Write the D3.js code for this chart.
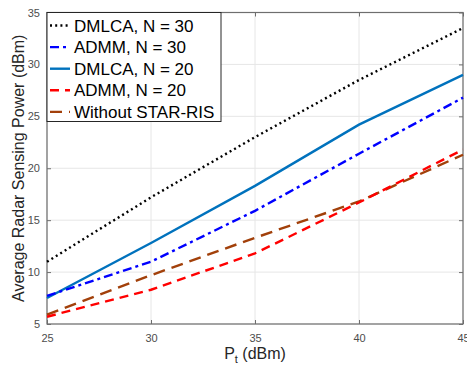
<!DOCTYPE html>
<html>
<head>
<meta charset="utf-8">
<script src="https://cdn.jsdelivr.net/npm/d3@7"></script>
<style>
  body { margin: 0; background: #fff; }
  text { font-family: "Liberation Sans", Arial, sans-serif; }
</style>
</head>
<body>
<svg width="467" height="368"></svg>
<script>
// values
const power = [25, 30, 35, 40, 45];
const dmlca30 = [11.0, 17.2, 23.0, 28.5, 33.5];
const admm30 = [7.7, 11.0, 15.9, 21.4, 26.8];
const dmlca20 = [7.5, 12.8, 18.3, 24.2, 29.0];
const admm20 = [5.7, 8.3, 11.8, 16.7, 21.8];
const noRis = [5.9, 9.7, 13.3, 16.8, 21.3];
const xTicks = [25, 30, 35, 40, 45];
const yTicks = [5, 10, 15, 20, 25, 30, 35];

const series = [
  {name: "DMLCA, N = 30", values: dmlca30, color: "#000000", dash: "2,3.2"},
  {name: "ADMM, N = 30", values: admm30, color: "#0000ff", dash: "9,4,3,4"},
  {name: "DMLCA, N = 20", values: dmlca20, color: "#0072bd", dash: null},
  {name: "ADMM, N = 20", values: admm20, color: "#ff0000", dash: "9,6"},
  {name: "Without STAR-RIS", values: noRis, color: "#a2400a", dash: "12,7"}
];

const svg = d3.select("svg");
const pLeft = 47, pRight = 463, pTop = 12.5, pBottom = 324;

const x = d3.scaleLinear().domain([25, 45]).range([pLeft, pRight]);
const y = d3.scaleLinear().domain([5, 35]).range([pBottom, pTop]);

// grid
const g = svg.append("g");
g.selectAll(".gx").data(xTicks).join("line")
  .attr("x1", d => x(d)).attr("x2", d => x(d))
  .attr("y1", pTop).attr("y2", pBottom)
  .attr("stroke", "#e6e6e6").attr("stroke-width", 1);
g.selectAll(".gy").data(yTicks).join("line")
  .attr("x1", pLeft).attr("x2", pRight)
  .attr("y1", d => y(d)).attr("y2", d => y(d))
  .attr("stroke", "#e6e6e6").attr("stroke-width", 1);

// axes (ticks pointing inward)
const axisColor = "#6e6e6e";
function styleAxis(sel) {
  sel.select(".domain").remove();
  sel.selectAll(".tick line").attr("stroke", axisColor);
  sel.selectAll(".tick text").attr("fill", "#4d4d4d").style("font-size", "11px");
}
svg.append("g").attr("transform", `translate(0,${pBottom})`)
  .call(d3.axisBottom(x).tickValues(xTicks).tickSize(-4).tickPadding(10))
  .call(styleAxis);
svg.append("g").attr("transform", `translate(0,${pTop})`)
  .call(d3.axisTop(x).tickValues(xTicks).tickSize(-4).tickFormat(""))
  .call(styleAxis);
svg.append("g").attr("transform", `translate(${pLeft},0)`)
  .call(d3.axisLeft(y).tickValues(yTicks).tickSize(-4).tickPadding(7))
  .call(styleAxis);
svg.append("g").attr("transform", `translate(${pRight},0)`)
  .call(d3.axisRight(y).tickValues(yTicks).tickSize(-4).tickFormat(""))
  .call(styleAxis);

svg.append("rect")
  .attr("x", pLeft).attr("y", pTop)
  .attr("width", pRight - pLeft).attr("height", pBottom - pTop)
  .attr("fill", "none").attr("stroke", axisColor).attr("stroke-width", 1.2);

// lines
const line = d3.line().x((d, i) => x(power[i])).y(d => y(d));
svg.append("g").selectAll("path").data(series.slice().reverse()).join("path")
  .attr("d", d => line(d.values))
  .attr("fill", "none")
  .attr("stroke", d => d.color)
  .attr("stroke-width", 2.4)
  .attr("stroke-dasharray", d => d.dash);

// legend
const leg = svg.append("g");
leg.append("rect")
  .attr("x", pLeft).attr("y", pTop)
  .attr("width", 174).attr("height", 109)
  .attr("fill", "#fff").attr("stroke", "#262626").attr("stroke-width", 1);
const items = leg.selectAll(".item").data(series).join("g")
  .attr("transform", (d, i) => `translate(0,${pTop + 13 + i * 21.6})`);
items.append("line")
  .attr("x1", pLeft + 3).attr("x2", pLeft + 23)
  .attr("y1", 0).attr("y2", 0)
  .attr("stroke", d => d.color)
  .attr("stroke-width", 2.4)
  .attr("stroke-dasharray", d => d.dash);
items.append("text")
  .attr("x", pLeft + 27).attr("y", 6)
  .style("font-size", "17px").attr("fill", "#000")
  .text(d => d.name);

// axis labels
const xl = svg.append("text")
  .attr("x", 255).attr("y", 359)
  .attr("text-anchor", "middle")
  .style("font-size", "16px").attr("fill", "#262626");
xl.append("tspan").text("P");
xl.append("tspan").attr("dy", 4).style("font-size", "11px").text("t");
xl.append("tspan").attr("dy", -4).text(" (dBm)");

svg.append("text")
  .attr("transform", `translate(23.5,${(pTop + pBottom) / 2}) rotate(-90)`)
  .attr("text-anchor", "middle")
  .style("font-size", "16px").attr("fill", "#262626")
  .text("Average Radar Sensing Power (dBm)");
</script>
</body>
</html>
